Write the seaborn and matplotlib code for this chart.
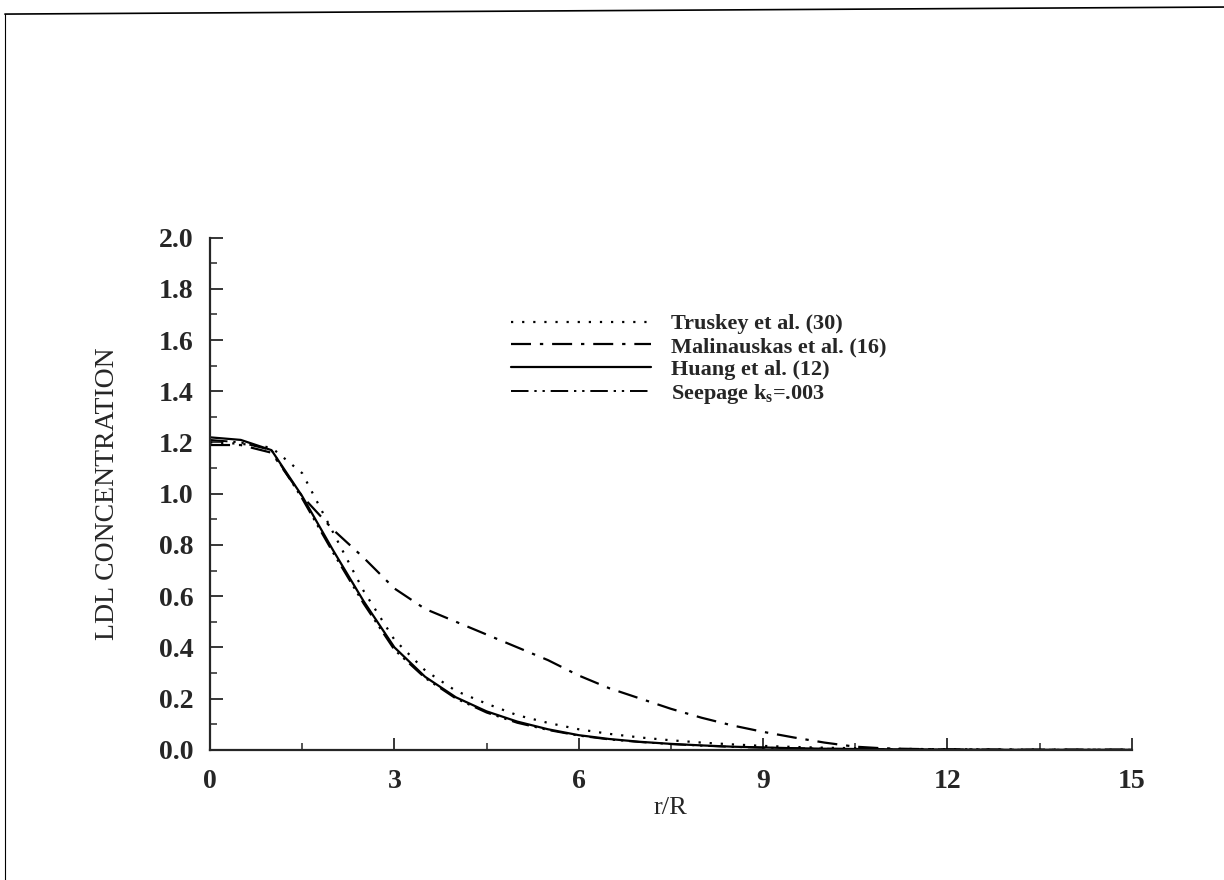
import numpy as np
import pandas as pd
import matplotlib.pyplot as plt
import seaborn as sns
from matplotlib.lines import Line2D
from matplotlib.ticker import MultipleLocator

r_vals = [0.0, 0.5, 1.0, 1.5, 2.0, 2.5, 3.0, 3.5, 4.0, 4.5, 5.0, 5.5, 6.0, 6.5, 7.0,
          7.5, 8.0, 8.5, 9.0, 9.5, 10.0, 10.5, 11.0, 12.0, 13.0, 14.0, 15.0]

truskey = [1.20, 1.195, 1.18, 1.08, 0.85, 0.62, 0.43, 0.31, 0.23, 0.18, 0.135, 0.105, 0.08,
           0.062, 0.048, 0.037, 0.028, 0.021, 0.015, 0.011, 0.008, 0.006, 0.004, 0.002, 0.001, 0.0, 0.0]
malinauskas = [1.19, 1.19, 1.16, 0.99, 0.86, 0.75, 0.63, 0.55, 0.50, 0.45, 0.40, 0.35, 0.29,
               0.24, 0.20, 0.16, 0.125, 0.095, 0.07, 0.048, 0.028, 0.012, 0.005, 0.001, 0.0, 0.0, 0.0]
huang = [1.22, 1.21, 1.17, 0.99, 0.78, 0.58, 0.40, 0.285, 0.205, 0.15, 0.11, 0.08, 0.057,
         0.042, 0.031, 0.023, 0.017, 0.012, 0.009, 0.006, 0.004, 0.003, 0.002, 0.001, 0.0, 0.0, 0.0]
seepage = [1.21, 1.20, 1.17, 0.98, 0.77, 0.57, 0.39, 0.28, 0.20, 0.145, 0.105, 0.077, 0.055,
           0.040, 0.030, 0.022, 0.016, 0.011, 0.008, 0.006, 0.004, 0.003, 0.002, 0.001, 0.0, 0.0, 0.0]

labels = ['Truskey et al. (30)', 'Malinauskas et al. (16)', 'Huang et al. (12)', 'Seepage k$_s$=.003']

sns.set_style('ticks')
plt.rcParams['font.family'] = ['Liberation Serif', 'DejaVu Serif']
plt.rcParams['mathtext.fontset'] = 'custom'
plt.rcParams['mathtext.rm'] = 'Liberation Serif:bold'
plt.rcParams['mathtext.it'] = 'Liberation Serif:bold'

fig = plt.figure(figsize=(12.24, 8.8), dpi=100)
ax = fig.add_axes([0.1716, 0.148, 0.753, 0.582])

styles = [(0, (1, 4)), (0, (9, 4, 1.5, 4)), '-', (0, (9, 3, 1.2, 3, 1.2, 3))]
widths = [1.6, 1.6, 1.6, 1.4]
series = [truskey, malinauskas, huang, seepage]
order = [3, 0, 1, 2]  # seepage first so the solid line sits on it
for i in order:
    sns.lineplot(x=r_vals, y=series[i], ax=ax, color='black', linestyle=styles[i],
                 linewidth=widths[i], label=labels[i])

ax.set_xlim(0, 15)
ax.set_ylim(0, 2.0)
ax.xaxis.set_major_locator(MultipleLocator(3))
ax.xaxis.set_minor_locator(MultipleLocator(1.5))
ax.yaxis.set_major_locator(MultipleLocator(0.2))
ax.yaxis.set_minor_locator(MultipleLocator(0.1))
ax.set_yticklabels([f'{v:.1f}' for v in ax.get_yticks()])
ax.tick_params(which='major', direction='in', length=9, width=1.3, labelsize=20, pad=12)
ax.tick_params(which='minor', direction='in', length=5, width=1.1)
ax.tick_params(axis='x', pad=14)
for t in ax.get_xticklabels() + ax.get_yticklabels():
    t.set_fontweight('bold')
sns.despine(ax=ax)
for s in ['left', 'bottom']:
    ax.spines[s].set_linewidth(1.6)

ax.set_xlabel('r/R', fontsize=19, labelpad=2)
ax.set_ylabel('LDL CONCENTRATION', fontsize=20, labelpad=28)

h, l = ax.get_legend_handles_labels()
idx = [l.index(t) for t in labels]
leg = ax.legend([h[k] for k in idx], [l[k] for k in idx], loc='upper left',
                bbox_to_anchor=(0.305, 0.89), frameon=False,
                prop={'size': 16, 'weight': 'bold'},
                handlelength=6.3, handletextpad=0.9, labelspacing=0.1)

# scanned page border
fig.add_artist(Line2D([0.004, 1.0], [0.984, 0.992], color='black', lw=1.2))
fig.add_artist(Line2D([0.004, 0.004], [0.0, 0.984], color='black', lw=0.8))

fig.savefig('out.png', dpi=100, facecolor='white')
